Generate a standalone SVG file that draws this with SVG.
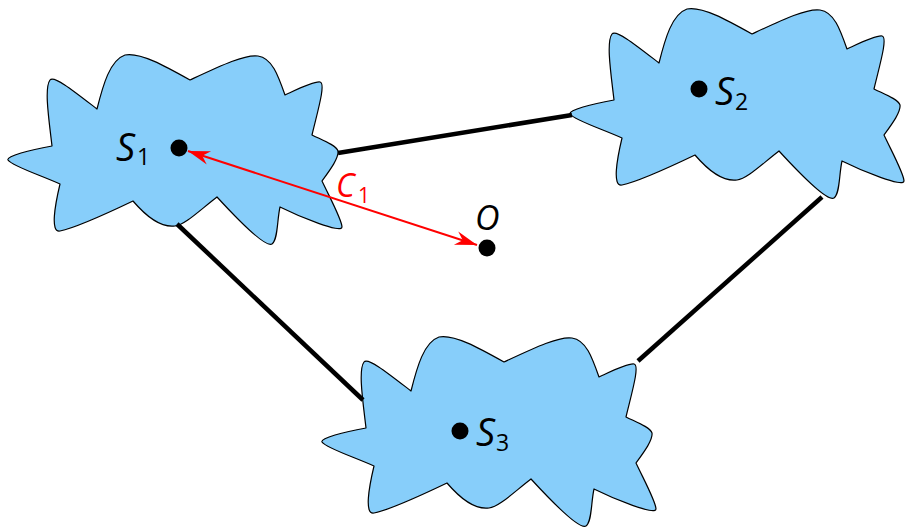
<svg xmlns="http://www.w3.org/2000/svg" width="905" height="529" viewBox="0 0 905 529">
<style>
.cloud{fill:#87CEFA;stroke:#000;stroke-width:1.2;stroke-linejoin:round}
.dot{fill:#000}
.lbl{font-family:"Open Sans","Liberation Sans",sans-serif;font-style:italic;fill:#000}
.sub{font-style:normal}
.rt{fill:#f00}
.link{stroke:#000;stroke-width:4.5;fill:none}
.red{stroke:#f00;stroke-width:2;fill:none}
</style>
<defs>
<path id="cloudShape" d="M60,184 C40,175 12,166 8,160 C6,156 30,150 52,146 C49,120 44,88 50,80 C54,75 75,92 97,109 C103,85 110,60 125,55 C140,52 165,66 190,80 C220,66 245,54 258,56 C272,58 278,75 285,95 C298,89 314,81 320,82 C326,83 318,110 312,135 C322,140 336,145 338,151 C339,158 330,170 322,181 C330,198 342,220 342,227 C342,234 300,217 280,207 C277,220 278,240 272,244 C266,248 240,222 217,197 C200,210 185,225 175,226 C160,228 145,215 133,201 C110,212 75,228 60,231 C50,233 55,205 60,184 Z"/>
<marker id="ah" markerUnits="userSpaceOnUse" orient="auto-start-reverse" refX="0" refY="0" markerWidth="24" markerHeight="16" viewBox="-24 -8 24 16" overflow="visible">
<path d="M0,0 L-22,-7 L-15,0 L-22,7 Z" fill="#f00"/>
</marker>
</defs>
<g id="S1">
<use href="#cloudShape" class="cloud"/>
<circle class="dot" cx="179" cy="148" r="8.5"/>
<text class="lbl" x="116" y="161" font-size="38">S</text>
<text class="lbl sub" x="137" y="165" font-size="23">1</text>
</g>
<g id="S2">
<use href="#cloudShape" class="cloud" transform="translate(562,-46)"/>
<circle class="dot" cx="699" cy="89" r="8.5"/>
<text class="lbl" x="715" y="105" font-size="38">S</text>
<text class="lbl sub" x="735" y="110" font-size="23">2</text>
</g>
<g id="S3">
<use href="#cloudShape" class="cloud" transform="translate(314,282)"/>
<circle class="dot" cx="460" cy="431" r="8.5"/>
<text class="lbl" x="476" y="446" font-size="38">S</text>
<text class="lbl sub" x="496" y="451" font-size="23">3</text>
</g>
<g id="O">
<circle class="dot" cx="487" cy="248" r="8.5"/>
<text class="lbl" x="475" y="230" font-size="34">O</text>
</g>
<g id="connectors">
<line class="link" x1="338" y1="153" x2="572" y2="115"/>
<line class="link" x1="177" y1="224" x2="363" y2="400"/>
<line class="link" x1="822" y1="197" x2="638" y2="361"/>
<line class="red" x1="188" y1="151" x2="477" y2="245" marker-start="url(#ah)" marker-end="url(#ah)"/>
<text class="lbl rt" x="336" y="197" font-size="32">C</text>
<text class="lbl sub rt" x="358" y="203" font-size="21">1</text>
</g>
</svg>
